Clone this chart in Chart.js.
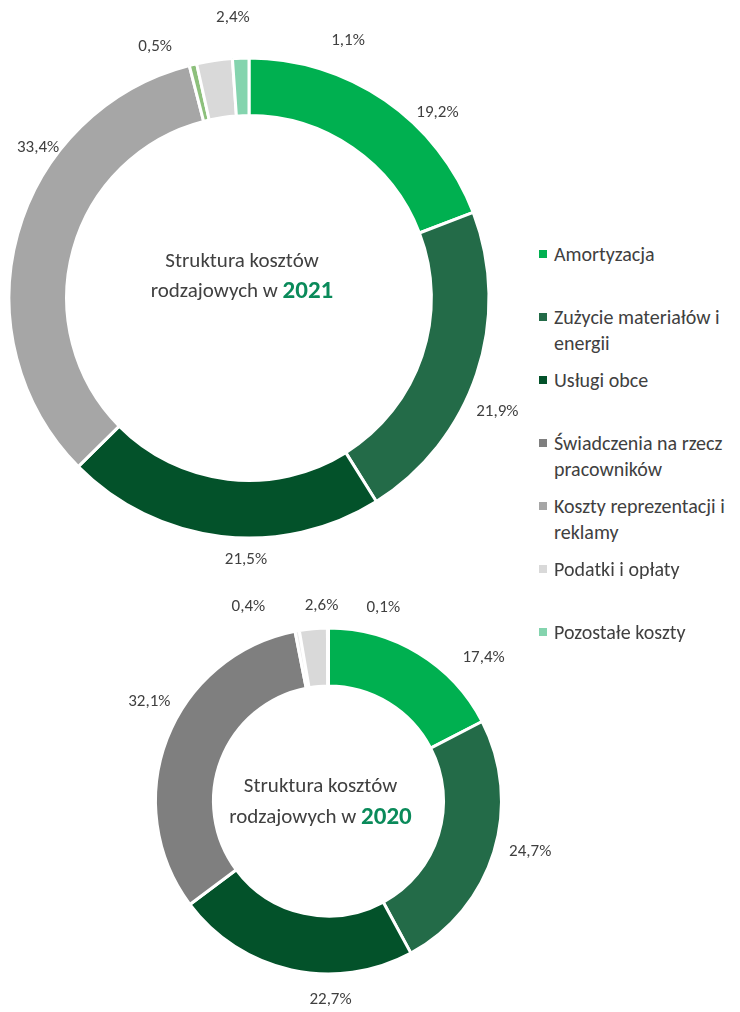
<!DOCTYPE html>
<html lang="pl">
<head>
  <meta charset="UTF-8">
  <title>Struktura kosztów rodzajowych</title>
  <script src="https://cdn.jsdelivr.net/npm/chart.js"></script>
  <style>
    body {
      margin: 0;
      background: #fff;
      font-family: Carlito, Calibri, Lato, sans-serif;
      color: #404040;
    }
    .page {
      position: relative;
      width: 740px;
      height: 1012px;
      overflow: hidden;
    }
    .chart-box {
      position: absolute;
    }
    #box2021 { left: 0; top: 0; width: 520px; height: 580px; }
    #box2020 { left: 100px; top: 580px; width: 460px; height: 432px; }
    .legend-item {
      position: absolute;
      left: 554px;
      width: 200px;
      font-size: 20px;
      line-height: 26px;
    }
    .legend-item .mark {
      position: absolute;
      left: -15px;
      top: 9px;
      width: 8px;
      height: 8px;
    }
  </style>
</head>
<body>
  <div class="page" id="page">
    <div class="chart-box" id="box2021"><canvas id="chart2021"></canvas></div>
    <div class="chart-box" id="box2020"><canvas id="chart2020"></canvas></div>
  </div>
  <script>
    const categories = [
      'Amortyzacja',
      'Zużycie materiałów i energii',
      'Usługi obce',
      'Świadczenia na rzecz pracowników',
      'Koszty reprezentacji i reklamy',
      'Podatki i opłaty',
      'Pozostałe koszty'
    ];
    const values2021 = [19.2, 21.9, 21.5, 33.4, 0.5, 2.4, 1.1];
    const values2020 = [17.4, 24.7, 22.7, 32.1, 0.4, 2.6, 0.1];

    const legendColors = ['#00b050', '#236b48', '#03522a', '#7f7f7f', '#a6a6a6', '#d9d9d9', '#84d4ae'];
    // kolory segmentów w oryginale nie zawsze zgadzają się z legendą
    const colors2021 = ['#00b050', '#236b48', '#03522a', '#a6a6a6', '#8dc07c', '#d9d9d9', '#84d4ae'];
    const colors2020 = ['#00b050', '#236b48', '#03522a', '#7f7f7f', '#ededed', '#d9d9d9', '#84d4ae'];

    const fontFamily = 'Carlito, Calibri, Lato, sans-serif';
    const textColor = '#404040';
    const yearColor = '#0a8a5a';

    function fmt(v) {
      return v.toFixed(1).replace('.', ',') + '%';
    }

    // etykiety procentowe na zewnątrz pierścienia
    const outsideLabels = {
      id: 'outsideLabels',
      afterDatasetsDraw(chart, args, opts) {
        const ctx = chart.ctx;
        const arcs = chart.getDatasetMeta(0).data;
        const values = chart.data.datasets[0].data;
        ctx.save();
        ctx.font = opts.size + 'px ' + fontFamily;
        ctx.fillStyle = textColor;
        ctx.textAlign = 'center';
        ctx.textBaseline = 'middle';
        arcs.forEach((arc, i) => {
          const p = arc.getProps(['x', 'y', 'startAngle', 'endAngle', 'outerRadius'], true);
          const a = (p.startAngle + p.endAngle) / 2 + opts.nudge[i] * Math.PI / 180;
          const r = p.outerRadius + opts.gap[i];
          ctx.fillText(fmt(values[i]), p.x + Math.cos(a) * r, p.y + Math.sin(a) * r);
        });
        ctx.restore();
      }
    };

    // tytuł w środku pierścienia
    const centerTitle = {
      id: 'centerTitle',
      afterDatasetsDraw(chart, args, opts) {
        const ctx = chart.ctx;
        const arc = chart.getDatasetMeta(0).data[0];
        const cx = arc.x + opts.dx;
        const cy = arc.y + opts.dy;
        ctx.save();
        ctx.textBaseline = 'middle';
        ctx.textAlign = 'center';
        ctx.fillStyle = textColor;
        ctx.font = opts.size + 'px ' + fontFamily;
        ctx.fillText('Struktura kosztów', cx, cy - opts.lineGap / 2);
        const part1 = 'rodzajowych w ';
        const w1 = ctx.measureText(part1).width;
        ctx.font = 'bold ' + opts.yearSize + 'px ' + fontFamily;
        const w2 = ctx.measureText(opts.year).width;
        const x0 = cx - (w1 + w2) / 2;
        ctx.textAlign = 'left';
        ctx.fillStyle = yearColor;
        ctx.fillText(opts.year, x0 + w1, cy + opts.lineGap / 2);
        ctx.font = opts.size + 'px ' + fontFamily;
        ctx.fillStyle = textColor;
        ctx.fillText(part1, x0, cy + opts.lineGap / 2);
        ctx.restore();
      }
    };

    function createDoughnut(canvasId, values, colors, cfg) {
      return new Chart(document.getElementById(canvasId), {
        type: 'doughnut',
        data: {
          labels: categories,
          datasets: [{
            data: values,
            backgroundColor: colors,
            borderColor: '#ffffff',
            borderWidth: 3,
            hoverOffset: 0,
            offset: 0
          }]
        },
        options: {
          responsive: true,
          maintainAspectRatio: false,
          animation: false,
          radius: cfg.radius,
          cutout: cfg.cutout,
          layout: { padding: cfg.padding },
          plugins: {
            legend: { display: false },
            tooltip: { enabled: false },
            outsideLabels: cfg.labels,
            centerTitle: cfg.title
          }
        },
        plugins: [outsideLabels, centerTitle]
      });
    }

    createDoughnut('chart2021', values2021, colors2021, {
      radius: 240,
      cutout: '76%',
      padding: { left: 5, right: 27, top: 26, bottom: 10 },
      labels: {
        size: 17,
        nudge: [11, 6, -6, 20, -7, 5, 23],
        gap: [24, 33, 22, 19, 28, 41, 36]
      },
      title: { year: '2021', size: 21, yearSize: 25, lineGap: 30, dx: -7, dy: -21 }
    });

    createDoughnut('chart2020', values2020, colors2020, {
      radius: 173,
      cutout: '66.5%',
      padding: { left: 10, right: 13, top: 15, bottom: 5 },
      labels: {
        size: 17,
        nudge: [16, -3, -13, 8, -12, 3, 16],
        gap: [38, 35, 26, 32, 37, 22, 28]
      },
      title: { year: '2020', size: 21, yearSize: 25, lineGap: 31, dx: -8, dy: 1 }
    });

    // legenda HTML
    const page = document.getElementById('page');
    const legendTop = 241;
    const legendStep = 63;
    categories.forEach((name, i) => {
      const item = document.createElement('div');
      item.className = 'legend-item';
      item.style.top = (legendTop + i * legendStep) + 'px';
      item.innerHTML = '<span class="mark" style="background:' + legendColors[i] + '"></span>' + name;
      page.appendChild(item);
    });
  </script>
</body>
</html>
